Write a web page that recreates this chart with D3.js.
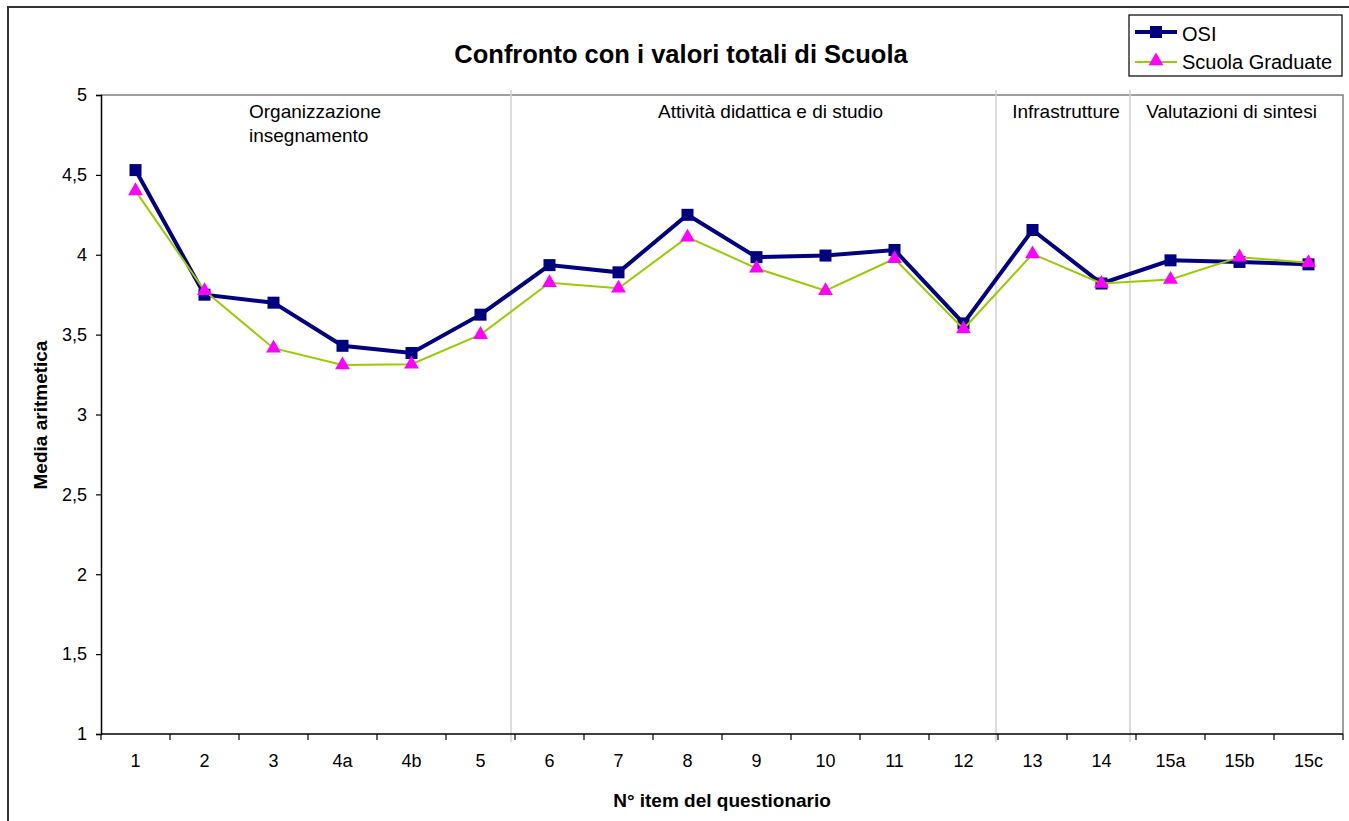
<!DOCTYPE html>
<html><head><meta charset="utf-8">
<script src="https://cdn.jsdelivr.net/npm/d3@7"></script>
<style>body{margin:0;background:#fff;font-family:"Liberation Sans",Arial,sans-serif}</style>
</head><body><svg id="c" width="1349" height="821"></svg>
<script>
const categories = ["1","2","3","4a","4b","5","6","7","8","9","10","11","12","13","14","15a","15b","15c"];
const osi = [4.53,3.75,3.70,3.43,3.385,3.625,3.935,3.89,4.25,3.985,3.995,4.03,3.57,4.155,3.82,3.965,3.955,3.94];
const scuola = [4.40,3.775,3.415,3.31,3.315,3.50,3.825,3.79,4.11,3.915,3.775,3.975,3.535,4.005,3.82,3.845,3.985,3.95];
const yTicks = [1,1.5,2,2.5,3,3.5,4,4.5,5];
const sectionStarts = [0,6,13,15];
const sectionLabels = [["Organizzazione","insegnamento"],["Attività didattica e di studio"],["Infrastrutture"],["Valutazioni di sintesi"]];
const title = "Confronto con i valori totali di Scuola";
const yTitle = "Media aritmetica";
const xTitle = "N° item del questionario";
const seriesNames = ["OSI","Scuola Graduate"];

const svg = d3.select("#c");
const L=101, R=1343, T=95, B=734;
const x = d3.scaleBand().domain(categories).range([L,R]).padding(0);
const y = d3.scaleLinear().domain([1,5]).range([B,T]);
const fmt = d => String(d).replace(".",",");

// outer frame
svg.append("rect").attr("x",8).attr("y",7).attr("width",1349).attr("height",830)
  .attr("fill","none").attr("stroke","#333").attr("stroke-width",2);

// plot border top/right
svg.append("path").attr("d",`M${L},${T}H${R}V${B}`).attr("fill","none").attr("stroke","#808080").attr("stroke-width",1.5);

// section separators
const sepShift = [0,4,2,6];
sectionStarts.forEach((s,i)=>{
  if(i===0) return;
  const sx = x(categories[s]) - sepShift[i];
  svg.append("line").attr("x1",sx).attr("x2",sx).attr("y1",90).attr("y2",742)
    .attr("stroke","#d0d0d0").attr("stroke-width",1.5);
});

// section labels
const labelShift = [0,14,-1,-8];
sectionStarts.forEach((s,i)=>{
  const end = i<sectionStarts.length-1 ? sectionStarts[i+1] : categories.length;
  const x0 = x(categories[s]), x1 = end<categories.length ? x(categories[end]) : R;
  const first = i===0;
  const t = svg.append("text").attr("font-size",19).attr("fill","#000").attr("text-anchor",first?"start":"middle");
  sectionLabels[i].forEach((ln,j)=>{
    t.append("tspan").attr("x", first ? x0+148 : (x0+x1)/2+labelShift[i]).attr("y",118+j*24).text(ln);
  });
});

// axes
const yAxis = d3.axisLeft(y).tickValues(yTicks).tickFormat(fmt).tickSize(5).tickPadding(9);
const gy = svg.append("g").attr("transform",`translate(${L},0)`).call(yAxis);
gy.select(".domain").attr("stroke","#000").attr("stroke-width",1.5);
gy.selectAll(".tick line").attr("stroke","#000").attr("stroke-width",1.2);
gy.selectAll("text").attr("font-size",18).attr("font-family","Liberation Sans, Arial").attr("fill","#000");

const gx = svg.append("g").attr("transform",`translate(0,${B})`);
gx.append("line").attr("x1",L).attr("x2",R).attr("y1",0).attr("y2",0).attr("stroke","#000").attr("stroke-width",1.5);
const bounds = d3.range(categories.length+1).map(i=>L+i*x.step());
gx.selectAll(".tk").data(bounds).join("line").attr("x1",d=>d).attr("x2",d=>d).attr("y1",0).attr("y2",6)
  .attr("stroke","#000").attr("stroke-width",1.2);
gx.selectAll(".lb").data(categories).join("text").attr("x",d=>x(d)+x.bandwidth()/2).attr("y",33)
  .attr("text-anchor","middle").attr("font-size",18).attr("fill","#000").text(d=>d);

// titles
svg.append("text").attr("x",681).attr("y",63).attr("text-anchor","middle").attr("font-size",25.5)
  .attr("font-weight","bold").text(title);
svg.append("text").attr("transform","translate(47,415) rotate(-90)").attr("text-anchor","middle")
  .attr("font-size",19).attr("font-weight","bold").text(yTitle);
svg.append("text").attr("x",722).attr("y",807).attr("text-anchor","middle").attr("font-size",19)
  .attr("font-weight","bold").text(xTitle);

const cx = d => x(d)+x.bandwidth()/2;
const line = d3.line().x(d=>cx(d[0])).y(d=>y(d[1]));
const sData = categories.map((c,i)=>[c,scuola[i]]);
const oData = categories.map((c,i)=>[c,osi[i]]);
const tri = d3.symbol().type(d3.symbolTriangle).size(95);

// OSI
svg.append("path").attr("d",line(oData)).attr("fill","none").attr("stroke","#000080").attr("stroke-width",4);
svg.selectAll(".sq").data(oData).join("rect").attr("x",d=>cx(d[0])-6).attr("y",d=>y(d[1])-6)
  .attr("width",12).attr("height",12).attr("fill","#000080");
// Scuola
svg.append("path").attr("d",line(sData)).attr("fill","none").attr("stroke","#99cc00").attr("stroke-width",2);
svg.selectAll(".tr").data(sData).join("path").attr("d",tri)
  .attr("transform",d=>`translate(${cx(d[0])},${y(d[1])})`).attr("fill","#ff00ff");

// legend
const lg = svg.append("g");
lg.append("rect").attr("x",1129).attr("y",15).attr("width",213).attr("height",61).attr("fill","#fff").attr("stroke","#000").attr("stroke-width",1.2);
lg.append("line").attr("x1",1135).attr("x2",1177).attr("y1",32).attr("y2",32).attr("stroke","#000080").attr("stroke-width",4);
lg.append("rect").attr("x",1150).attr("y",26).attr("width",12).attr("height",12).attr("fill","#000080");
lg.append("line").attr("x1",1135).attr("x2",1177).attr("y1",62).attr("y2",62).attr("stroke","#99cc00").attr("stroke-width",2);
lg.append("path").attr("d",tri).attr("transform","translate(1156,61)").attr("fill","#ff00ff");
lg.append("text").attr("x",1182).attr("y",41).attr("font-size",20).text(seriesNames[0]);
lg.append("text").attr("x",1182).attr("y",69).attr("font-size",20).text(seriesNames[1]);
</script></body></html>
